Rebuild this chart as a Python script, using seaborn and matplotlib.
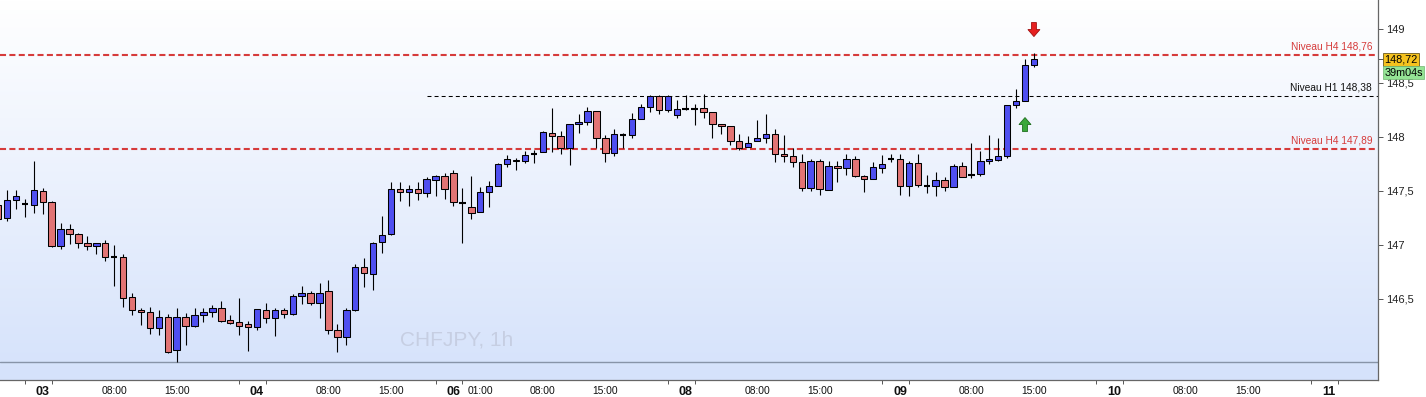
import numpy as np
import pandas as pd
import matplotlib
matplotlib.use("Agg")
import matplotlib.pyplot as plt
import matplotlib.transforms as mtransforms
from matplotlib.colors import LinearSegmentedColormap
from matplotlib.patches import FancyArrow
from matplotlib.ticker import FixedLocator, FuncFormatter
import seaborn as sns

# ---------------- data ----------------
symbol = "CHFJPY, 1h"
first_index = -1

opens = [147.37, 147.25, 147.42, 147.38, 147.37, 147.50, 147.40, 146.99, 147.15, 147.10,
         147.02, 146.99, 147.02, 146.89, 146.89, 146.52, 146.40, 146.38, 146.23, 146.33,
         146.03, 146.33, 146.25, 146.35, 146.38, 146.42, 146.31, 146.29, 146.27, 146.24,
         146.40, 146.32, 146.40, 146.36, 146.53, 146.56, 146.46, 146.57, 146.21, 146.15,
         146.40, 146.80, 146.73, 147.03, 147.10, 147.52, 147.49, 147.52, 147.48, 147.60,
         147.64, 147.67, 147.39, 147.35, 147.31, 147.49, 147.55, 147.75, 147.79, 147.78,
         147.84, 147.86, 148.04, 148.01, 147.90, 148.12, 148.14, 148.24, 147.99, 147.85,
         148.02, 148.02, 148.17, 148.28, 148.38, 148.25, 148.20, 148.26, 148.26, 148.27,
         148.23, 148.12, 148.10, 147.96, 147.91, 147.96, 147.99, 148.03, 147.84, 147.82,
         147.77, 147.53, 147.78, 147.51, 147.73, 147.71, 147.80, 147.64, 147.61, 147.71,
         147.80, 147.80, 147.55, 147.76, 147.55, 147.55, 147.60, 147.54, 147.73, 147.65,
         147.66, 147.78, 147.79, 147.82, 148.30, 148.33, 148.67]
closes = [147.24, 147.42, 147.45, 147.38, 147.51, 147.40, 146.99, 147.15, 147.10, 147.02,
          146.99, 147.02, 146.89, 146.89, 146.51, 146.40, 146.38, 146.23, 146.33, 146.01,
          146.33, 146.25, 146.35, 146.38, 146.42, 146.30, 146.28, 146.25, 146.24, 146.41,
          146.32, 146.40, 146.36, 146.53, 146.56, 146.46, 146.56, 146.21, 146.15, 146.40,
          146.80, 146.74, 147.02, 147.09, 147.52, 147.49, 147.52, 147.48, 147.61, 147.64,
          147.52, 147.40, 147.39, 147.30, 147.49, 147.55, 147.75, 147.80, 147.78, 147.83,
          147.84, 148.05, 148.01, 147.90, 148.12, 148.14, 148.24, 147.99, 147.85, 148.03,
          148.02, 148.17, 148.28, 148.38, 148.25, 148.38, 148.26, 148.26, 148.26, 148.23,
          148.12, 148.10, 147.96, 147.90, 147.94, 147.99, 148.03, 147.84, 147.82, 147.77,
          147.53, 147.78, 147.52, 147.73, 147.71, 147.80, 147.64, 147.61, 147.72, 147.75,
          147.80, 147.55, 147.76, 147.56, 147.55, 147.60, 147.54, 147.73, 147.63, 147.65,
          147.78, 147.80, 147.82, 148.30, 148.33, 148.67, 148.72]
highs = [147.39, 147.51, 147.51, 147.43, 147.78, 147.53, 147.41, 147.20, 147.19, 147.11,
         147.08, 147.02, 147.05, 147.00, 146.92, 146.56, 146.42, 146.43, 146.40, 146.36,
         146.42, 146.37, 146.42, 146.42, 146.44, 146.48, 146.35, 146.51, 146.30, 146.41,
         146.46, 146.42, 146.42, 146.55, 146.62, 146.57, 146.65, 146.68, 146.27, 146.42,
         146.82, 146.88, 147.03, 147.27, 147.58, 147.58, 147.56, 147.58, 147.63, 147.65,
         147.67, 147.69, 147.53, 147.64, 147.54, 147.59, 147.76, 147.83, 147.81, 147.87,
         147.88, 148.06, 148.27, 148.06, 148.12, 148.21, 148.28, 148.24, 148.02, 148.07,
         148.04, 148.22, 148.31, 148.39, 148.39, 148.39, 148.34, 148.39, 148.31, 148.40,
         148.23, 148.12, 148.10, 148.03, 148.01, 148.16, 148.21, 148.07, 148.02, 147.90,
         147.84, 147.80, 147.80, 147.78, 147.78, 147.84, 147.82, 147.65, 147.77, 147.83,
         147.84, 147.84, 147.78, 147.84, 147.65, 147.68, 147.63, 147.75, 147.77, 147.94,
         147.87, 148.02, 147.99, 148.30, 148.44, 148.72, 148.78]
lows = [147.22, 147.22, 147.33, 147.26, 147.30, 147.29, 146.98, 146.96, 147.01, 146.97,
        146.95, 146.92, 146.85, 146.62, 146.43, 146.35, 146.26, 146.18, 146.17, 146.00,
        145.92, 146.07, 146.24, 146.29, 146.33, 146.29, 146.27, 146.17, 146.02, 146.21,
        146.28, 146.16, 146.32, 146.35, 146.45, 146.44, 146.32, 146.18, 146.01, 146.07,
        146.39, 146.61, 146.58, 146.93, 147.09, 147.41, 147.36, 147.42, 147.44, 147.45,
        147.43, 147.36, 147.02, 147.24, 147.31, 147.35, 147.55, 147.72, 147.69, 147.76,
        147.76, 147.86, 147.86, 147.84, 147.74, 148.04, 148.11, 147.90, 147.77, 147.82,
        147.90, 147.99, 148.17, 148.23, 148.21, 148.23, 148.18, 148.25, 148.11, 148.18,
        147.99, 148.03, 147.93, 147.88, 147.91, 147.96, 147.94, 147.77, 147.77, 147.72,
        147.50, 147.50, 147.46, 147.51, 147.58, 147.65, 147.63, 147.49, 147.61, 147.67,
        147.77, 147.46, 147.45, 147.54, 147.48, 147.45, 147.50, 147.54, 147.63, 147.62,
        147.64, 147.75, 147.78, 147.81, 148.27, 148.33, 148.65]

tick_index = [4, 12, 19, 28, 36, 43, 50, 53, 60, 67, 76, 84, 91, 100, 108, 115, 124, 132, 139, 148]
tick_labels = ["03", "08:00", "15:00", "04", "08:00", "15:00", "06", "01:00", "08:00", "15:00",
               "08", "08:00", "15:00", "09", "08:00", "15:00", "10", "08:00", "15:00", "11"]

y_ticks = [146.5, 147.0, 147.5, 148.0, 148.5, 149.0]
h4_levels = [148.76, 147.89]
h1_level = 148.38
h1_start_index = 47
last_price = 148.72
countdown = "39m04s"
signal_up_index = 114
signal_down_index = 115

# ---------------- style ----------------
sns.set_style("white")
plt.rcParams["font.family"] = ["Liberation Sans", "DejaVu Sans"]

BLUE = "#4f4ff0"
RED = "#e27474"
LEVEL_RED = "#d63b3b"

df = pd.DataFrame({"open": opens, "high": highs, "low": lows, "close": closes})
df["idx"] = np.arange(len(df)) + first_index

fig = plt.figure(figsize=(14.26, 3.97), dpi=100)
ax = fig.add_axes([0, 17 / 397, 1378 / 1426, 380 / 397])

x0, x1 = -0.784, 153.53
y0, y1 = 145.75, 149.2685

# gradient background
cmap = LinearSegmentedColormap.from_list("bg", ["#ffffff", "#d5e2fb"])
ax.imshow(np.linspace(0, 1, 256).reshape(-1, 1), cmap=cmap, aspect="auto",
          extent=[x0, x1, y0, y1], origin="upper", zorder=0)

# panel separator
ax.axhline(145.917, color="#8894a8", lw=1.0, zorder=1)

# wicks
ax.vlines(df["idx"], df["low"], df["high"], color="black", lw=0.8, zorder=2)

up = df[df["close"] > df["open"]]
down = df[df["close"] < df["open"]]
doji = df[df["close"] == df["open"]]
bw = 0.72
ax.bar(up["idx"], up["close"] - up["open"], bottom=up["open"], width=bw,
       color=BLUE, edgecolor="black", linewidth=0.75, zorder=3)
ax.bar(down["idx"], down["open"] - down["close"], bottom=down["close"], width=bw,
       color=RED, edgecolor="black", linewidth=0.75, zorder=3)
ax.hlines(doji["close"], doji["idx"] - bw / 2, doji["idx"] + bw / 2, color="black",
          lw=1.5, zorder=3)

# levels
for lv in h4_levels:
    ax.axhline(lv, color=LEVEL_RED, lw=1.5, ls=(0, (2.9, 1.6)), zorder=1.5)
ax.hlines(h1_level, h1_start_index, x1, color="black", lw=0.75, ls=(0, (3.8, 3.0)), zorder=1.5)

trans_lab = mtransforms.blended_transform_factory(ax.transAxes, ax.transData)
for lv in h4_levels:
    ax.annotate(f"Niveau H4 {lv:.2f}".replace(".", ","), xy=(0.9958, lv), xycoords=trans_lab,
                xytext=(0, 2.5), textcoords="offset points", ha="right", va="bottom",
                fontsize=7.3, color=LEVEL_RED)
ax.annotate(f"Niveau H1 {h1_level:.2f}".replace(".", ","), xy=(0.9958, h1_level),
            xycoords=trans_lab, xytext=(0, 2.5), textcoords="offset points",
            ha="right", va="bottom", fontsize=7.3, color="#111111")

# signal arrows
i_up = signal_up_index - first_index
i_dn = signal_down_index - first_index
gap, alen = 0.15, 0.13
ax.add_patch(FancyArrow(signal_up_index, lows[i_up] - gap - alen, 0, alen, width=0.55,
                        head_width=1.35, head_length=0.065, length_includes_head=True,
                        fc="#3aa83a", ec="#1e6e1e", lw=0.6, zorder=4))
ax.add_patch(FancyArrow(signal_down_index, highs[i_dn] + gap + alen, 0, -alen, width=0.55,
                        head_width=1.35, head_length=0.065, length_includes_head=True,
                        fc="#e62020", ec="#a01010", lw=0.6, zorder=4))

# watermark
ax.text(0.2905, 0.105, symbol, transform=ax.transAxes, fontsize=15, color="#c6cee2",
        ha="left", va="center", zorder=1)

ax.set_xlim(x0, x1)
ax.set_ylim(y0, y1)

# x axis
ax.xaxis.set_major_locator(FixedLocator(tick_index))
ax.set_xticklabels(tick_labels)
minor = []
for t, lab in zip(tick_index, tick_labels):
    if ":" in lab:
        minor.append(t)
    else:
        minor.extend([t - 2, t + 1])
ax.xaxis.set_minor_locator(FixedLocator(minor))
ax.tick_params(axis="x", which="major", length=0, pad=4.5, labelsize=7.4, colors="#111111")
ax.tick_params(axis="x", which="minor", length=3, width=0.7, color="#555555", bottom=True)
for lab in ax.get_xticklabels():
    if ":" not in lab.get_text():
        lab.set_fontweight("bold")
        lab.set_fontsize(9)

# y axis on right
ax.yaxis.tick_right()
ax.yaxis.set_major_locator(FixedLocator(y_ticks))
ax.yaxis.set_major_formatter(FuncFormatter(lambda v, p: (f"{v:g}").replace(".", ",")))
ax.yaxis.set_minor_locator(FixedLocator([last_price]))
ax.tick_params(axis="y", which="both", right=True, left=False, length=3.6, width=0.7,
               color="#555555", pad=2, labelsize=8, labelcolor="#222222")

for s in ["top", "left"]:
    ax.spines[s].set_visible(False)
for s in ["right", "bottom"]:
    ax.spines[s].set_visible(True)
    ax.spines[s].set_color("#666666")
    ax.spines[s].set_linewidth(0.9)

# price and countdown labels
trans_r = mtransforms.blended_transform_factory(ax.transAxes, ax.transData)
ax.text(1.0045, last_price, f"{last_price:.2f}".replace(".", ","), transform=trans_r,
        ha="left", va="center", fontsize=7.8, color="black", clip_on=False, zorder=6,
        bbox=dict(boxstyle="square,pad=0.15", fc="#f5c21e", ec="#6a5a20", lw=0.6))
ax.annotate(countdown, xy=(1.0045, last_price), xycoords=trans_r, xytext=(0, -9.8),
            textcoords="offset points", ha="left", va="center", fontsize=7.8,
            color="black", annotation_clip=False, zorder=6,
            bbox=dict(boxstyle="square,pad=0.15", fc="#94e394", ec="#6fb56f", lw=0.5))

fig.savefig("out.png", dpi=100)
